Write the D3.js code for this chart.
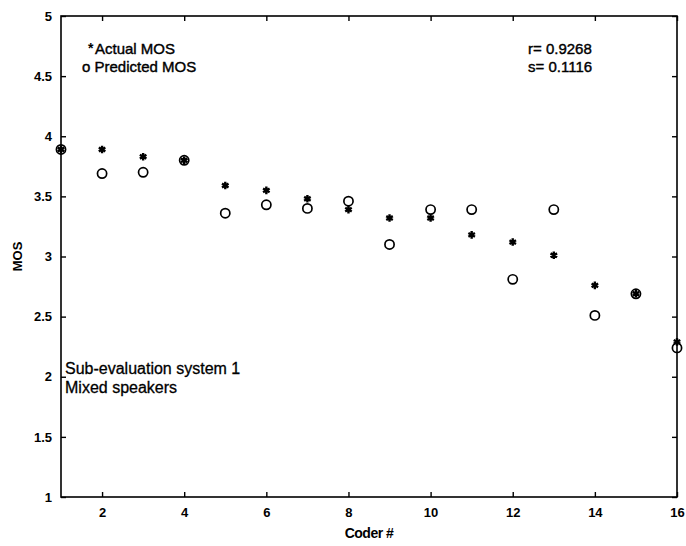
<!DOCTYPE html>
<html>
<head>
<meta charset="utf-8">
<script src="https://cdn.jsdelivr.net/npm/d3@7"></script>
<style>
  html, body { margin: 0; padding: 0; background: #fff; }
  svg text { font-family: "Liberation Sans", Arial, Helvetica, sans-serif; fill: #000; }
</style>
</head>
<body>
<svg id="chart" width="686" height="546"></svg>
<script>
// Coder index and MOS scores per coder
const coders = [1, 2, 3, 4, 5, 6, 7, 8, 9, 10, 11, 12, 13, 14, 15, 16];
const actualMOS = [3.89, 3.89, 3.83, 3.80, 3.59, 3.55, 3.48, 3.39, 3.32, 3.32, 3.18, 3.12, 3.01, 2.76, 2.69, 2.29];
const predictedMOS = [3.89, 3.69, 3.70, 3.80, 3.36, 3.43, 3.40, 3.46, 3.10, 3.39, 3.39, 2.81, 3.39, 2.51, 2.69, 2.24];
const xTicks = [2, 4, 6, 8, 10, 12, 14, 16];
const yTicks = [1, 1.5, 2, 2.5, 3, 3.5, 4, 4.5, 5];
const legendLabels = ["Actual MOS", "Predicted MOS"];
const statLines = ["r= 0.9268", "s= 0.1116"];
const noteLines = ["Sub-evaluation system 1", "Mixed speakers"];

const svg = d3.select("#chart");
const m = { left: 61, right: 677, top: 16, bottom: 497 };

const x = d3.scaleLinear().domain([1, 16]).range([m.left, m.right]);
const y = d3.scaleLinear().domain([1, 5]).range([m.bottom, m.top]);

// frame
svg.append("rect")
  .attr("x", m.left).attr("y", m.top)
  .attr("width", m.right - m.left).attr("height", m.bottom - m.top)
  .attr("fill", "none").attr("stroke", "#000").attr("stroke-width", 1.6);

// inward ticks on all four sides, labels on bottom and left
const tickLen = 5;
const bottomAxis = svg.append("g").attr("transform", `translate(0,${m.bottom})`)
  .call(d3.axisBottom(x).tickValues(xTicks).tickSizeInner(-tickLen).tickSizeOuter(0).tickPadding(11));
const topAxis = svg.append("g").attr("transform", `translate(0,${m.top})`)
  .call(d3.axisTop(x).tickValues(xTicks).tickSizeInner(-tickLen).tickSizeOuter(0).tickFormat(""));
const leftAxis = svg.append("g").attr("transform", `translate(${m.left},0)`)
  .call(d3.axisLeft(y).tickValues(yTicks).tickSizeInner(-tickLen).tickSizeOuter(0).tickPadding(9).tickFormat(d3.format("")));
const rightAxis = svg.append("g").attr("transform", `translate(${m.right},0)`)
  .call(d3.axisRight(y).tickValues(yTicks).tickSizeInner(-tickLen).tickSizeOuter(0).tickFormat(""));

[bottomAxis, topAxis, leftAxis, rightAxis].forEach(g => {
  g.select(".domain").remove();
  g.selectAll(".tick line").attr("stroke", "#000").attr("stroke-width", 1.4);
  g.selectAll("text").attr("font-size", 13).attr("font-weight", "bold")
    .attr("font-family", "'Liberation Sans', Arial, sans-serif").attr("fill", "#000");
});

// axis titles
svg.append("text")
  .attr("x", (m.left + m.right) / 2).attr("y", 538)
  .attr("text-anchor", "middle").attr("font-size", 14).attr("font-weight", "bold")
  .attr("letter-spacing", -0.5)
  .text("Coder #");
svg.append("text")
  .attr("transform", `translate(22,${(m.top + m.bottom) / 2}) rotate(-90)`)
  .attr("text-anchor", "middle").attr("font-size", 13).attr("font-weight", "bold")
  .text("MOS");

// predicted MOS: open circles
svg.append("g").selectAll("circle")
  .data(coders)
  .join("circle")
  .attr("cx", (d) => x(d))
  .attr("cy", (d, i) => y(predictedMOS[i]))
  .attr("r", 4.6)
  .attr("fill", "none")
  .attr("stroke", "#000")
  .attr("stroke-width", 1.7);

// actual MOS: small asterisks
const star = d3.symbol().type(d3.symbolAsterisk).size(40);
svg.append("g").selectAll("path")
  .data(coders)
  .join("path")
  .attr("transform", (d, i) => `translate(${x(d)},${y(actualMOS[i])})`)
  .attr("d", star)
  .attr("fill", "none")
  .attr("stroke", "#000")
  .attr("stroke-width", 2.4);

// legend
const legend = svg.append("g");
legend.append("text").attr("x", 88).attr("y", 53).attr("font-size", 14).attr("font-weight", "bold")
  .text("*");
legend.append("text").attr("x", 95).attr("y", 54).attr("font-size", 15)
  .attr("stroke", "#000").attr("stroke-width", 0.4)
  .text(legendLabels[0]);
legend.append("text").attr("x", 82).attr("y", 72).attr("font-size", 15)
  .attr("stroke", "#000").attr("stroke-width", 0.4)
  .text("o " + legendLabels[1]);

// correlation stats
svg.append("g").selectAll("text")
  .data(statLines)
  .join("text")
  .attr("x", 528).attr("y", (d, i) => 54 + i * 18)
  .attr("font-size", 15).attr("stroke", "#000").attr("stroke-width", 0.4)
  .text((d) => d);

// annotation
svg.append("g").selectAll("text")
  .data(noteLines)
  .join("text")
  .attr("x", 65).attr("y", (d, i) => 374 + i * 19)
  .attr("font-size", 16).attr("stroke", "#000").attr("stroke-width", 0.3)
  .text((d) => d);
</script>
</body>
</html>
